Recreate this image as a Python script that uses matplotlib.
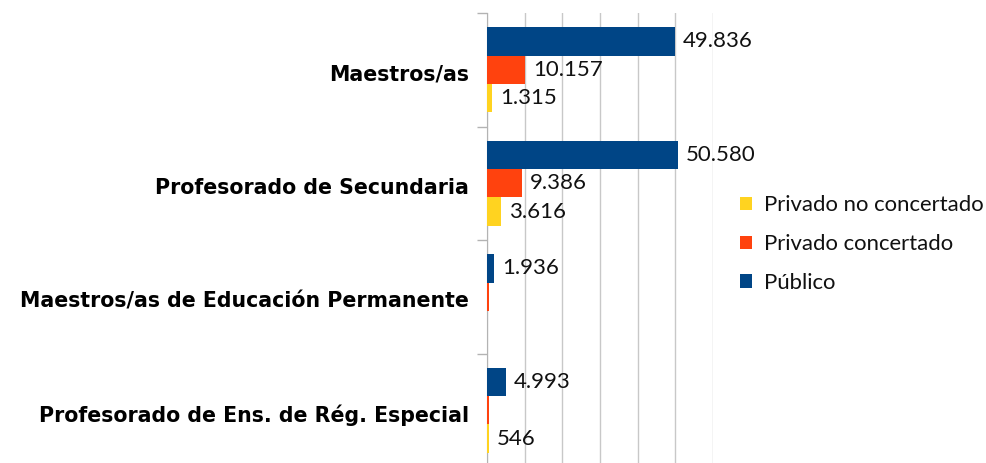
import matplotlib
matplotlib.use("Agg")
import matplotlib.pyplot as plt
import matplotlib.transforms as mtransforms
import numpy as np

categories = ["Maestros/as", "Profesorado de Secundaria",
              "Maestros/as de Educación Permanente",
              "Profesorado de Ens. de Rég. Especial"]
publico = [49836, 50580, 1936, 4993]
concertado = [10157, 9386, 400, 400]
no_concertado = [1315, 3616, 0, 546]
series_names = ["Público", "Privado concertado", "Privado no concertado"]
colors = ["#004586", "#ff420e", "#ffd320"]

W, H = 987, 463
fig = plt.figure(figsize=(W / 100, H / 100), dpi=100)
ax = fig.add_axes([487 / W, (H - 467) / H, (713 - 487) / W, (467 - 13) / H])

y = np.arange(len(categories))
bh = 0.25
series = [publico, concertado, no_concertado]
offsets = [-bh, 0, bh]
vfont = dict(family="Lato", fontsize=16, color="#111111")

for vals, off, col, name in zip(series, offsets, colors, series_names):
    bars = ax.barh(y + off, vals, height=bh, color=col, label=name, zorder=3)
    for b, v in zip(bars, vals):
        # tiny bars carry no label in the original
        if v >= 500:
            lbl = f"{v:,}".replace(",", ".")
            ax.text(v + 2100, b.get_y() + b.get_height() / 2, lbl,
                    va="center", ha="left", zorder=4, **vfont)

ax.set_xlim(0, 60000)
ax.set_ylim(3.5, -0.5)
ax.set_xticks(np.arange(0, 60001, 10000))
ax.xaxis.grid(True, color="#c8c8c8", lw=1, zorder=0)
ax.tick_params(axis="x", length=0, labelbottom=False)

ax.set_yticks(y)
ax.set_yticklabels(categories, fontweight="bold", fontsize=14.8,
                   family="DejaVu Sans")
ax.set_yticks(np.arange(-0.5, 4.0, 1), minor=True)
ax.tick_params(axis="y", which="major", length=0, pad=13)
ax.tick_params(axis="y", which="minor", length=7, color="#b3b3b3", width=1)
shift = mtransforms.ScaledTranslation(0, -3 / 100, fig.dpi_scale_trans)
for t in ax.get_yticklabels():
    t.set_transform(t.get_transform() + shift)

for s in ["top", "right", "bottom"]:
    ax.spines[s].set_visible(False)
ax.spines["left"].set_color("#b3b3b3")
ax.spines["left"].set_zorder(2)

handles, labels = ax.get_legend_handles_labels()
leg = fig.legend(handles[::-1], labels[::-1], loc="center left",
                 bbox_to_anchor=(740 / W, 1 - 244 / H), frameon=False,
                 borderpad=0, borderaxespad=0,
                 prop=dict(family="Lato", size=15.9), handlelength=0.54,
                 handleheight=0.54, handletextpad=0.55, labelspacing=0.85)
for t in leg.get_texts():
    t.set_color("#111111")

fig.savefig("out.png", dpi=100)
